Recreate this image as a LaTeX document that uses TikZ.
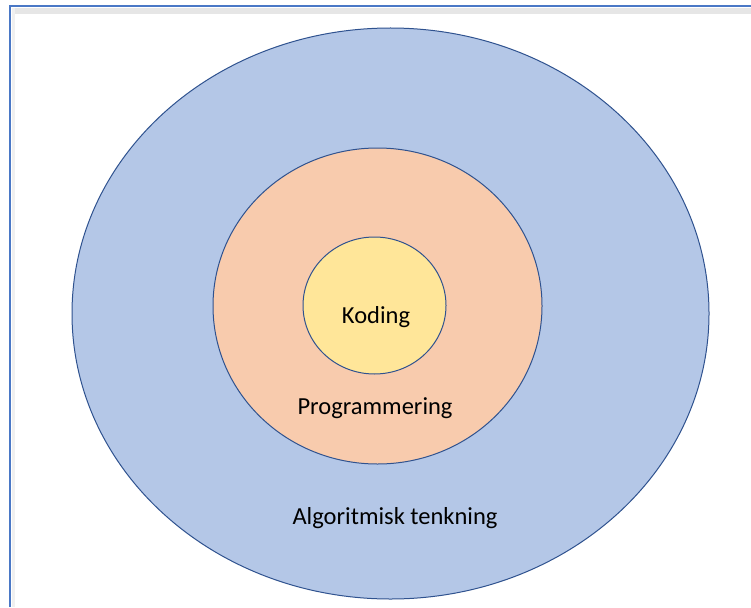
\documentclass[tikz,border=0pt]{standalone}
\usepackage{fontspec}
\setmainfont{Carlito}
\usetikzlibrary{positioning, shapes.geometric}
\definecolor{frameblue}{HTML}{4A78C6}
\definecolor{shadowgrey}{HTML}{E6E6E6}
\definecolor{outline}{HTML}{2F528F}
\definecolor{lightblue}{HTML}{B4C7E7}
\definecolor{lightpeach}{HTML}{F8CBAD}
\definecolor{lightyellow}{HTML}{FFE699}
\tikzset{
  ring/.style={ellipse, draw=outline, line width=1pt, inner sep=0pt},
  ringOuter/.style={ring, fill=lightblue, minimum width=637pt, minimum height=571pt},
  ringMid/.style={ring, fill=lightpeach, minimum width=329pt, minimum height=316pt},
  ringInner/.style={ring, fill=lightyellow, minimum width=143pt, minimum height=137pt},
  label/.style={font=\fontsize{24.5}{29}\selectfont, inner sep=0pt, anchor=center},
}
\begin{document}
\begin{tikzpicture}[x=1pt, y=-1pt]
\useasboundingbox (0,0) rectangle (751,607);
\fill[white] (0,0) rectangle (751,607);
% frame of the slide
\coordinate (fbl) at (10,607);
\coordinate (ftl) at (10,6);
\coordinate (ftr) at (751,6);
\fill[shadowgrey] (12,8) rectangle (751,14);
\fill[shadowgrey!60] (12,8) rectangle (15,607);
\draw[frameblue, line width=2pt] (fbl) -- (ftl) -- (ftr);

\node[ringOuter] (algo) at (390.5,313.5) {};
\node[ringMid] (prog) at (377.5,306) {};
\node[ringInner] (kode) at (374.5,305.5) {};

\node[label] (kodetxt) at (376,317) {Koding};
\node[label] (progtxt) at (375,408) {Programmering};
\node[label] (algotxt) at (395,518) {Algoritmisk tenkning};
\end{tikzpicture}
\end{document}
